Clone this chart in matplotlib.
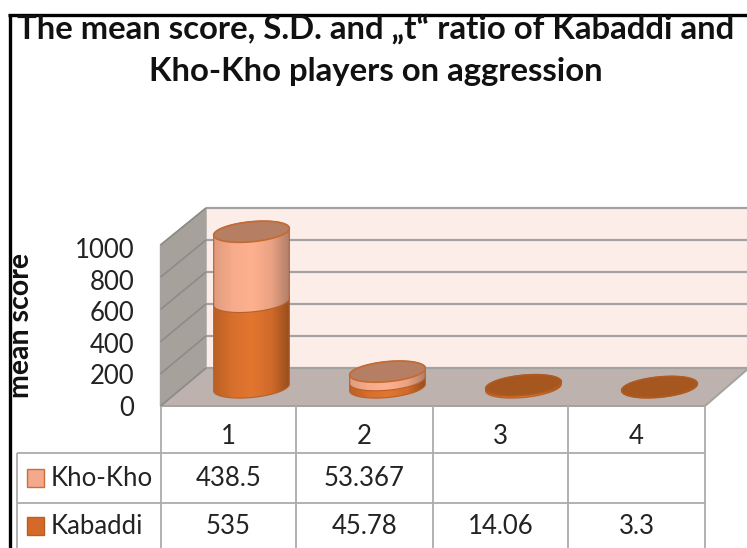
import numpy as np
import matplotlib
matplotlib.use("Agg")
import matplotlib.pyplot as plt
from matplotlib.colors import LinearSegmentedColormap
from matplotlib.path import Path
from matplotlib.patches import PathPatch, Polygon

categories = [1, 2, 3, 4]
kabaddi = [535, 45.78, 14.06, 3.3]
kho_kho = [438.5, 53.367, None, None]
kabaddi_labels = ["535", "45.78", "14.06", "3.3"]
kho_kho_labels = ["438.5", "53.367", "", ""]
y_ticks = [0, 200, 400, 600, 800, 1000]
title_lines = ["The mean score, S.D. and \u201et\u201c ratio of Kabaddi and", "Kho-Kho players on aggression"]

W, H = 747, 548
FONT = "Lato"
TXT = "#232323"
GRID = "#a4a2a0"
LABEL_SIZE = 18.5
plt.rcParams["font.family"] = [FONT, "DejaVu Sans"]

fig = plt.figure(figsize=(W / 100, H / 100), dpi=100, facecolor="white")

# Full-figure axes in category / value units; cylinders stand on the 387.5 px baseline
X0, DX, BASE, PER = 251.5, 136.0, 387.5, 0.16
ax = fig.add_axes([0, 0, 1, 1])
ax.set_xlim(1 - X0 / DX, 1 + (W - X0) / DX)
ax.set_ylim((BASE - H) / PER, BASE / PER)
ax.axis("off")

def X(px):
    return 1 + (np.asarray(px, float) - X0) / DX

def Y(py):
    return (BASE - np.asarray(py, float)) / PER

def poly(pts, **kw):
    pts = np.array(pts, float)
    p = Polygon(np.c_[X(pts[:, 0]), Y(pts[:, 1])], closed=True, **kw)
    ax.add_patch(p)
    return p

def line(xs, ys, **kw):
    kw.setdefault("color", GRID)
    kw.setdefault("lw", 1.5)
    ax.plot(X(xs), Y(ys), solid_capstyle="butt", **kw)

# Outer black frame
line([9.5, 9.5], [14, 548], color="black", lw=2.4)
line([8.5, 747], [15, 15], color="black", lw=2.4)

# Title
ax.text(X(376), Y(29), title_lines[0], ha="center", va="center", fontsize=23.7, fontweight="bold", color="#111111")
ax.text(X(376), Y(72), title_lines[1], ha="center", va="center", fontsize=23.7, fontweight="bold", color="#111111")

# 3D box
BACK_L, FRONT_L, FRONT_R = 206, 160.5, 705
poly([(BACK_L, 208), (W + 2, 208), (W + 2, 368), (BACK_L, 368)], fc="#fcede8", ec="none")
poly([(FRONT_L, 245), (BACK_L, 208), (BACK_L, 368), (FRONT_L, 406)], fc="#a7a19c", ec=GRID, lw=1)
poly([(FRONT_L, 406), (FRONT_R, 406), (W + 2, 368), (BACK_L, 368)], fc="#bdb2ae", ec=GRID, lw=1.4)
for v in y_ticks:
    back = 368 - 0.16 * v
    front = 406 - 0.161 * v
    line([BACK_L, W + 2], [back, back], lw=1.6)
    line([FRONT_L, BACK_L], [front, back], lw=1.2, color="#8f8a86")

# Cylinders
A, B, TILT = 38.0, 10.0, np.radians(-5.5)
kab_cmap = LinearSegmentedColormap.from_list("k", ["#b85f24", "#d76f2c", "#e2762f", "#d06a2a", "#8f4a1b"])
kho_cmap = LinearSegmentedColormap.from_list("h", ["#dd9a7c", "#f6ab8a", "#ffb18f", "#e9a282", "#a87a66"])

def ellipse(cx, cy, t):
    dx, dy = A * np.cos(t), B * np.sin(t)
    return cx + dx * np.cos(TILT) - dy * np.sin(TILT), cy + dx * np.sin(TILT) + dy * np.cos(TILT)

def body(cat, v0, v1, cmap, z):
    cx = X0 + DX * (cat - 1)
    lo = np.linspace(0, np.pi, 60)
    hi = np.linspace(np.pi, 2 * np.pi, 60)
    x0, y0 = ellipse(cx, BASE - PER * v0, lo)
    x1, y1 = ellipse(cx, BASE - PER * v1, hi)
    xs, ys = np.r_[x0, x1], np.r_[y0, y1]
    verts = np.c_[X(xs), Y(ys)]
    patch = PathPatch(Path(np.r_[verts, verts[:1]], closed=True), transform=ax.transData, fc="none", ec="#b8602a", lw=0.8, zorder=z + 0.5)
    ax.add_patch(patch)
    im = ax.imshow(np.linspace(0, 1, 128)[None, :], cmap=cmap, aspect="auto", zorder=z,
                   extent=(X(cx - A - 2), X(cx + A + 2), Y(BASE - PER * v0 + 14), Y(BASE - PER * v1 - 14)))
    im.set_clip_path(patch)

def cap(cat, v, color, edge):
    cx = X0 + DX * (cat - 1)
    t = np.linspace(0, 2 * np.pi, 120)
    xs, ys = ellipse(cx, BASE - PER * v, t)
    poly(np.c_[xs, ys], fc=color, ec=edge, lw=1.2, zorder=6)

for i, cat in enumerate(categories):
    k = kabaddi[i]
    h = kho_kho[i]
    body(cat, 0, k, kab_cmap, 3)
    if h is not None:
        body(cat, k, k + h, kho_cmap, 4)
        cap(cat, k + h, "#b67f64", "#c46a30")
    else:
        cap(cat, k, "#a5571f", "#ae5c22")

ax.set_xlim(1 - X0 / DX, 1 + (W - X0) / DX)
ax.set_ylim((BASE - H) / PER, BASE / PER)

# Data table
col_x = [160.5, 296, 433, 568, 705]
LINE = "#ababab"
for cx in col_x:
    line([cx, cx], [406, 548], color=LINE, lw=1.3)
line([17, 17], [453, 548], color=LINE, lw=1.3)
for yy in (453, 503):
    line([17, FRONT_R], [yy, yy], color=LINE, lw=1.3)
for i, cat in enumerate(categories):
    xc = (col_x[i] + col_x[i + 1]) / 2
    ax.text(X(xc), Y(436), str(cat), ha="center", va="center", fontsize=LABEL_SIZE, color=TXT)
    ax.text(X(xc), Y(478), kho_kho_labels[i], ha="center", va="center", fontsize=LABEL_SIZE, color=TXT)
    ax.text(X(xc), Y(526), kabaddi_labels[i], ha="center", va="center", fontsize=LABEL_SIZE, color=TXT)

for name, yc, fc, ec in (("Kho-Kho", 478, "#f3a98b", "#c9703a"), ("Kabaddi", 526, "#d4692a", "#b85f24")):
    poly([(26.5, yc - 9), (43.5, yc - 9), (43.5, yc + 9), (26.5, yc + 9)], fc=fc, ec=ec, lw=1)
    ax.text(X(51), Y(yc), name, ha="left", va="center", fontsize=LABEL_SIZE, color=TXT)

# Value axis
vax = fig.add_axes([160.5 / W, (H - 406) / H, 40 / W, 158 / H])
vax.patch.set_visible(False)
vax.set_ylim(0, 1000)
vax.set_xticks([])
vax.set_yticks(y_ticks)
vax.tick_params(axis="y", length=0, pad=19, labelsize=LABEL_SIZE, labelcolor=TXT)
for s in vax.spines.values():
    s.set_visible(False)
fig.text(21 / W, 1 - 326 / H, "mean score", rotation=90, ha="center", va="center", fontsize=20.5, fontweight="bold", color="#111111")

fig.savefig("out.png", dpi=100)
